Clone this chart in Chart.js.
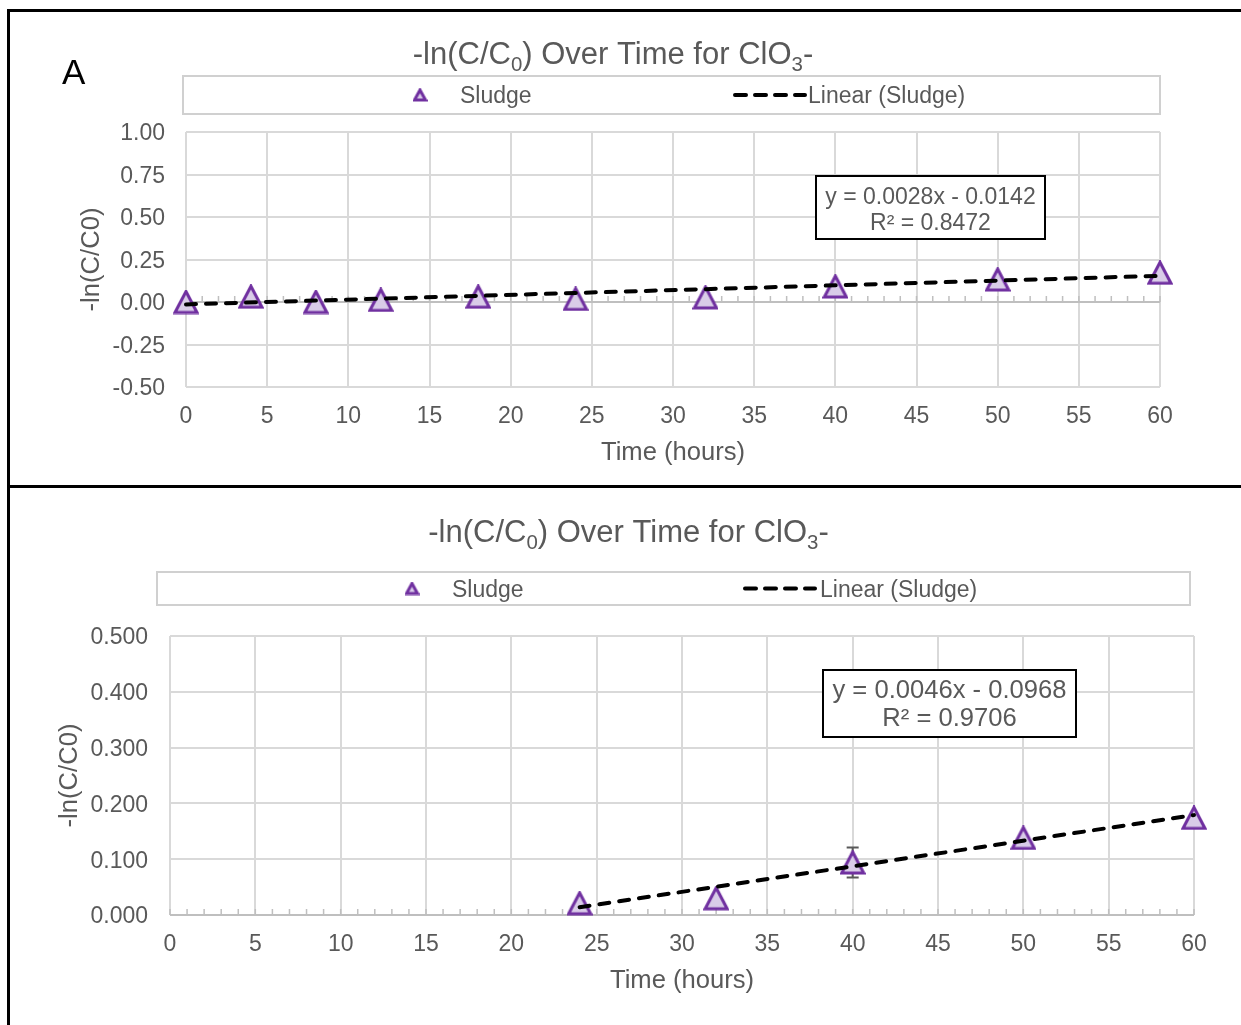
<!DOCTYPE html>
<html>
<head>
<meta charset="utf-8">
<script src="https://cdn.jsdelivr.net/npm/chart.js@4.4.1/dist/chart.umd.min.js"></script>
<style>
body { margin: 0; background: #fff; width: 1241px; height: 1025px; overflow: hidden; position: relative; }
.ln { position: absolute; background: #000; }
canvas { position: absolute; left: 0; }
</style>
</head>
<body>
<div class="ln" style="left:7px;top:9px;width:1234px;height:3px"></div>
<div class="ln" style="left:7px;top:9px;width:3px;height:1016px"></div>
<div class="ln" style="left:7px;top:485px;width:1234px;height:3px"></div>
<canvas id="topChart" width="1241" height="486" style="top:0;width:1241px;height:486px"></canvas>
<canvas id="botChart" width="1241" height="539" style="top:486px;width:1241px;height:539px"></canvas>
<script>
const FONT = "'Liberation Sans', Arial, sans-serif";
const GREY = '#595959';

// panel A data
const timeA = [0, 4, 8, 12, 18, 24, 32, 40, 50, 60];
const valA = [0.000, 0.031, 0.000, 0.012, 0.031, 0.018, 0.027, 0.091, 0.132, 0.172];
const trendTimeA = [0, 60];
const trendValA = [-0.014, 0.154];
const xTicksA = [0, 5, 10, 15, 20, 25, 30, 35, 40, 45, 50, 55, 60];
const yTicksA = [-0.5, -0.25, 0, 0.25, 0.5, 0.75, 1];
const eqA = ['y = 0.0028x - 0.0142', 'R² = 0.8472'];

// lower panel data
const timeB = [24, 32, 40, 50, 60];
const valB = [0.021, 0.030, 0.094, 0.138, 0.174];
const errB = [0, 0, 0.027, 0, 0];
const trendTimeB = [24, 60];
const trendValB = [0.014, 0.179];
const xTicksB = [0, 5, 10, 15, 20, 25, 30, 35, 40, 45, 50, 55, 60];
const yTicksB = [0, 0.1, 0.2, 0.3, 0.4, 0.5];
const eqB = ['y = 0.0046x - 0.0968', 'R² = 0.9706'];

const titleParts = [['-ln(C/C', 0], ['0', 1], [') Over Time for ClO', 0], ['3', 1], ['-', 0]];

// excel style triangle marker
function triangle(w, h, lw) {
    const c = document.createElement('canvas');
    c.width = w; c.height = h;
    const g = c.getContext('2d');
    const m = lw / 2 + 0.5;
    g.beginPath();
    g.moveTo(w / 2, m);
    g.lineTo(w - m, h - m);
    g.lineTo(m, h - m);
    g.closePath();
    g.fillStyle = '#D9CCE8';
    g.fill();
    g.lineJoin = 'miter';
    g.lineWidth = lw;
    g.strokeStyle = '#7030A0';
    g.stroke();
    return c;
}
const bigTri = triangle(26, 25, 3);
const smallTri = triangle(15, 14, 3);

function decor(o) {
    return {
        id: 'decor',
        beforeDatasetsDraw(chart) {
            const { ctx, scales: { x, y } } = chart;
            const y0 = y.getPixelForValue(0);
            ctx.save();
            ctx.strokeStyle = '#BFBFBF';
            ctx.lineWidth = 2;
            ctx.beginPath();
            ctx.moveTo(x.left, y0);
            ctx.lineTo(x.right, y0);
            ctx.stroke();
            ctx.lineWidth = 1.5;
            ctx.beginPath();
            for (let v = x.min; v <= x.max; v++) {
                const px = x.getPixelForValue(v);
                ctx.moveTo(px, y0);
                ctx.lineTo(px, y0 - 6);
            }
            ctx.stroke();
            // error bars
            if (o.err) {
                ctx.strokeStyle = GREY;
                ctx.lineWidth = 2;
                o.err.forEach((e, i) => {
                    if (!e) return;
                    const px = x.getPixelForValue(o.xs[i]);
                    const hi = y.getPixelForValue(o.ys[i] + e);
                    const lo = y.getPixelForValue(o.ys[i] - e);
                    ctx.beginPath();
                    ctx.moveTo(px, hi); ctx.lineTo(px, lo);
                    ctx.moveTo(px - 6, hi); ctx.lineTo(px + 6, hi);
                    ctx.moveTo(px - 6, lo); ctx.lineTo(px + 6, lo);
                    ctx.stroke();
                });
            }
            ctx.restore();
        },
        afterDraw(chart) {
            const ctx = chart.ctx;
            ctx.save();
            // title with subscripts
            const F = 31, S = F * 0.66;
            let total = 0;
            titleParts.forEach(p => {
                ctx.font = (p[1] ? S : F) + 'px ' + FONT;
                total += ctx.measureText(p[0]).width;
            });
            let tx = o.title[0] - total / 2;
            ctx.fillStyle = GREY;
            ctx.textBaseline = 'alphabetic';
            ctx.textAlign = 'left';
            titleParts.forEach(p => {
                ctx.font = (p[1] ? S : F) + 'px ' + FONT;
                ctx.fillText(p[0], tx, o.title[1] + (p[1] ? F * 0.22 : 0));
                tx += ctx.measureText(p[0]).width;
            });

            // legend
            const L = o.legend;
            ctx.strokeStyle = '#D0D0D0';
            ctx.lineWidth = 2;
            ctx.strokeRect(L.box[0], L.box[1], L.box[2], L.box[3]);
            const cy = L.box[1] + L.box[3] / 2;
            const sets = chart.data.datasets;
            ctx.drawImage(smallTri, L.marker - smallTri.width / 2, cy - smallTri.height / 2);
            ctx.font = '23px ' + FONT;
            ctx.textBaseline = 'middle';
            ctx.fillStyle = GREY;
            ctx.fillText(sets[1].label, L.text1, cy + 2);
            ctx.strokeStyle = '#000';
            ctx.lineWidth = 4;
            ctx.lineCap = 'round';
            ctx.setLineDash([11, 9]);
            ctx.beginPath();
            ctx.moveTo(L.line[0], cy);
            ctx.lineTo(L.line[1], cy);
            ctx.stroke();
            ctx.setLineDash([]);
            ctx.fillText(sets[0].label, L.text2, cy + 2);

            // trendline equation
            const E = o.eq;
            ctx.fillStyle = '#fff';
            ctx.fillRect(E.box[0], E.box[1], E.box[2], E.box[3]);
            ctx.strokeStyle = '#000';
            ctx.lineWidth = 2;
            ctx.strokeRect(E.box[0], E.box[1], E.box[2], E.box[3]);
            ctx.fillStyle = GREY;
            ctx.font = E.size + 'px ' + FONT;
            ctx.textAlign = 'center';
            E.lines.forEach((t, i) => ctx.fillText(t, E.box[0] + E.box[2] / 2, E.ys[i]));

            if (o.letter) {
                ctx.fillStyle = '#000';
                ctx.textAlign = 'left';
                ctx.textBaseline = 'alphabetic';
                ctx.font = '35px ' + FONT;
                ctx.fillText(o.letter, 62, 84);
            }
            ctx.restore();
        }
    };
}

function makeChart(id, d) {
    return new Chart(document.getElementById(id), {
        type: 'scatter',
        data: {
            datasets: [{
                label: 'Linear (Sludge)',
                data: d.tx.map((v, i) => ({ x: v, y: d.ty[i] })),
                showLine: true,
                borderColor: '#000',
                borderWidth: 4,
                borderDash: [10, 10],
                borderCapStyle: 'round',
                pointRadius: 0,
                clip: false,
                order: 0
            }, {
                label: 'Sludge',
                data: d.xs.map((v, i) => ({ x: v, y: d.ys[i] })),
                pointStyle: bigTri,
                pointRadius: 12,
                clip: false,
                order: 1
            }]
        },
        options: {
            responsive: false,
            animation: false,
            layout: { padding: { left: 0, right: d.padRight, top: d.padTop, bottom: 0 } },
            plugins: { legend: { display: false }, tooltip: { enabled: false } },
            scales: {
                x: {
                    type: 'linear', min: 0, max: 60,
                    afterBuildTicks: s => { s.ticks = d.xTicks.map(v => ({ value: v })); },
                    afterFit: s => { s.height = d.xHeight; },
                    grid: { color: '#D9D9D9', lineWidth: 2, drawTicks: false },
                    border: { display: false },
                    ticks: { padding: 16, color: GREY, font: { size: 23, family: FONT }, maxRotation: 0, autoSkip: false },
                    title: { display: true, text: 'Time (hours)', color: GREY, font: { size: 25.6, family: FONT }, padding: { top: 0, bottom: d.xTitlePad } }
                },
                y: {
                    min: d.yMin, max: d.yMax,
                    afterBuildTicks: s => { s.ticks = d.yTicks.map(v => ({ value: v })); },
                    afterFit: s => { s.width = d.yWidth; },
                    grid: { color: '#D9D9D9', lineWidth: 2, drawTicks: false },
                    border: { display: false },
                    ticks: { padding: d.yTickPad, labelOffset: 2, color: GREY, font: { size: 23, family: FONT }, callback: v => v.toFixed(d.dec) },
                    title: { display: true, text: '-ln(C/C0)', color: GREY, font: { size: 25.6, family: FONT }, padding: { top: d.yTitlePad, bottom: 0 } }
                }
            }
        },
        plugins: [decor(d.decor)]
    });
}

makeChart('topChart', {
    xs: timeA, ys: valA, tx: trendTimeA, ty: trendValA,
    xTicks: xTicksA, yTicks: yTicksA, yMin: -0.5, yMax: 1, dec: 2,
    padRight: 81, padTop: 132, xHeight: 99, yWidth: 186,
    yTickPad: 21, xTitlePad: 18, yTitlePad: 76.6,
    decor: {
        title: [613, 64],
        legend: { box: [183, 76, 977, 38], marker: 420, text1: 460, line: [735, 805], text2: 808 },
        eq: { box: [816, 176, 229, 63], lines: eqA, ys: [198, 224], size: 23 },
        letter: 'A'
    }
});

makeChart('botChart', {
    xs: timeB, ys: valB, tx: trendTimeB, ty: trendValB,
    xTicks: xTicksB, yTicks: yTicksB, yMin: 0, yMax: 0.5, dec: 3,
    padRight: 47, padTop: 150, xHeight: 110, yWidth: 170,
    yTickPad: 22, xTitlePad: 29, yTitlePad: 54.6,
    decor: {
        title: [628.5, 56],
        legend: { box: [157, 86, 1033, 33], marker: 412, text1: 452, line: [745, 815], text2: 820 },
        eq: { box: [823, 184, 253, 67], lines: eqB, ys: [205, 233], size: 25.6 },
        err: errB, xs: timeB, ys: valB
    }
});
</script>
</body>
</html>
